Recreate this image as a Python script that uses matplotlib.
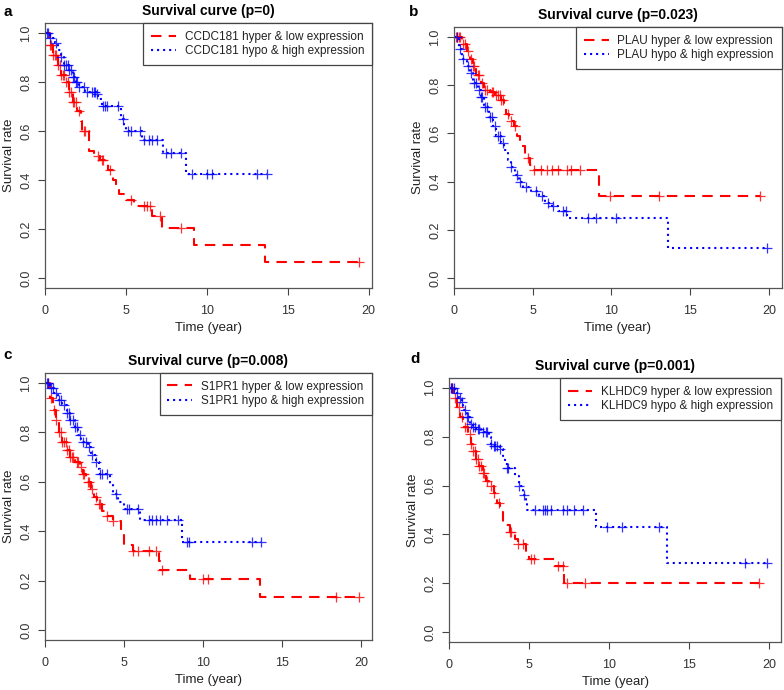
import numpy as np
import matplotlib
matplotlib.use("Agg")
from matplotlib import pyplot as plt
from matplotlib.lines import Line2D

plt.rcParams['font.family'] = ['Liberation Sans', 'DejaVu Sans']

panel_labels = ["a", "b", "c", "d"]
genes = ["CCDC181", "PLAU", "S1PR1", "KLHDC9"]
pvalues = ["0", "0.023", "0.008", "0.001"]

# red = hyper & low expression, blue = hypo & high expression
# event times and survival after each drop, censor times
a_red_t = [0.3, 0.5, 0.8, 1.0, 1.3, 1.5, 1.7, 2.0, 2.2, 2.3, 2.7, 3.0, 3.4, 3.9, 4.2, 4.4, 4.6, 5.0, 5.5, 6.6, 7.2, 9.2, 13.6]
a_red_s = [0.95, 0.91, 0.87, 0.83, 0.80, 0.76, 0.72, 0.68, 0.64, 0.60, 0.52, 0.50, 0.48, 0.44, 0.40, 0.37, 0.345, 0.32, 0.295, 0.255, 0.205, 0.135, 0.068]
a_red_c = [0.3, 0.4, 0.5, 0.6, 0.7, 0.8, 0.9, 1.0, 1.1, 1.2, 1.3, 1.4, 1.5, 1.6, 1.7, 1.8, 1.9, 2.1, 2.4, 2.5, 3.3, 3.5, 3.6, 4.0, 5.3, 6.1, 6.3, 6.5, 7.1, 8.4, 19.4]
a_blue_t = [0.3, 0.6, 0.8, 1.0, 1.2, 1.5, 1.7, 1.9, 2.1, 2.5, 3.2, 3.3, 3.5, 4.7, 4.9, 5.0, 6.0, 7.3, 8.7]
a_blue_s = [0.98, 0.96, 0.93, 0.90, 0.87, 0.85, 0.82, 0.80, 0.78, 0.76, 0.75, 0.73, 0.70, 0.65, 0.62, 0.60, 0.565, 0.51, 0.425]
a_blue_c = [0.1, 0.2, 0.3, 0.7, 1.0, 1.2, 1.3, 1.4, 1.5, 1.6, 1.7, 1.8, 1.9, 2.0, 2.1, 2.4, 2.6, 2.9, 3.0, 3.1, 3.2, 3.6, 3.7, 3.8, 4.5, 4.8, 5.1, 5.3, 5.9, 6.1, 6.4, 6.6, 6.9, 7.5, 7.8, 8.4, 9.1, 10.0, 10.3, 13.1, 13.7]

b_red_t = [0.5, 0.8, 1.0, 1.2, 1.4, 1.7, 1.9, 2.3, 2.6, 3.0, 3.2, 3.3, 3.5, 3.8, 4.0, 4.2, 4.5, 4.8, 5.0, 9.2]
b_red_s = [0.97, 0.94, 0.91, 0.88, 0.84, 0.81, 0.78, 0.77, 0.76, 0.74, 0.72, 0.68, 0.65, 0.63, 0.59, 0.55, 0.50, 0.47, 0.45, 0.34]
b_red_c = [0.1, 0.2, 0.3, 0.4, 0.6, 0.7, 0.9, 1.1, 1.2, 1.3, 1.5, 1.6, 1.8, 2.0, 2.1, 2.4, 2.5, 2.7, 2.8, 2.9, 3.0, 3.1, 3.4, 3.6, 3.9, 4.7, 5.1, 5.5, 5.9, 6.2, 6.6, 7.2, 7.4, 8.0, 9.9, 13.0, 19.4]
b_blue_t = [0.3, 0.5, 0.8, 1.0, 1.2, 1.5, 1.7, 1.9, 2.2, 2.5, 2.7, 3.0, 3.2, 3.4, 3.6, 3.9, 4.1, 4.4, 4.9, 5.4, 5.8, 6.2, 6.6, 7.2, 13.6]
b_blue_s = [0.95, 0.91, 0.88, 0.85, 0.81, 0.78, 0.75, 0.71, 0.67, 0.63, 0.59, 0.56, 0.53, 0.49, 0.46, 0.43, 0.40, 0.38, 0.36, 0.34, 0.31, 0.30, 0.28, 0.25, 0.125]
b_blue_c = [0.2, 0.4, 0.6, 0.9, 1.1, 1.3, 1.4, 1.6, 1.7, 1.8, 2.0, 2.1, 2.3, 2.4, 2.6, 2.8, 2.9, 3.1, 3.6, 4.0, 4.2, 4.6, 5.2, 5.6, 6.0, 6.3, 6.9, 7.1, 8.5, 9.0, 10.3, 19.9]

c_red_t = [0.3, 0.5, 0.7, 0.9, 1.1, 1.4, 1.6, 1.9, 2.2, 2.4, 2.6, 2.9, 3.1, 3.3, 3.6, 3.9, 4.3, 4.8, 5.0, 5.6, 7.2, 7.3, 9.2, 13.6]
c_red_s = [0.94, 0.89, 0.85, 0.80, 0.76, 0.73, 0.70, 0.68, 0.66, 0.63, 0.60, 0.57, 0.54, 0.51, 0.48, 0.46, 0.44, 0.40, 0.345, 0.32, 0.28, 0.245, 0.205, 0.135]
c_red_c = [0.2, 0.4, 0.6, 0.7, 0.9, 1.0, 1.1, 1.2, 1.3, 1.4, 1.5, 1.6, 1.7, 1.8, 2.0, 2.1, 2.3, 2.4, 2.5, 2.7, 2.8, 3.0, 3.2, 3.4, 3.5, 3.9, 4.3, 5.6, 5.9, 6.6, 7.0, 7.4, 10.0, 10.3, 18.4, 19.9]
c_blue_t = [0.3, 0.6, 0.8, 1.1, 1.4, 1.6, 1.9, 2.1, 2.3, 2.7, 2.9, 3.2, 3.4, 3.5, 4.1, 4.3, 4.6, 5.0, 6.0, 8.7]
c_blue_s = [0.98, 0.96, 0.93, 0.91, 0.88, 0.85, 0.82, 0.79, 0.76, 0.74, 0.71, 0.68, 0.65, 0.63, 0.59, 0.55, 0.52, 0.49, 0.445, 0.355]
c_blue_c = [0.1, 0.2, 0.4, 0.5, 0.7, 0.9, 1.0, 1.2, 1.4, 1.5, 1.6, 1.8, 1.9, 2.0, 2.2, 2.4, 2.6, 2.8, 3.0, 3.2, 3.5, 3.6, 3.9, 4.5, 5.2, 5.3, 5.9, 6.6, 6.8, 7.0, 7.3, 7.7, 8.4, 9.0, 9.1, 13.1, 13.7]

d_red_t = [0.3, 0.5, 0.7, 0.9, 1.2, 1.4, 1.5, 1.7, 1.9, 2.1, 2.3, 2.5, 2.8, 3.0, 3.2, 3.4, 3.8, 4.1, 4.3, 4.8, 5.0, 6.6, 7.2]
d_red_s = [0.96, 0.92, 0.88, 0.84, 0.81, 0.77, 0.74, 0.71, 0.68, 0.65, 0.62, 0.60, 0.57, 0.53, 0.49, 0.44, 0.41, 0.38, 0.36, 0.33, 0.30, 0.27, 0.20]
d_red_c = [0.1, 0.2, 0.4, 0.6, 0.8, 1.0, 1.1, 1.3, 1.4, 1.5, 1.6, 1.7, 1.8, 1.9, 2.0, 2.1, 2.2, 2.4, 2.6, 2.8, 3.1, 3.8, 3.9, 4.3, 4.6, 5.1, 5.3, 6.8, 7.1, 7.4, 8.5, 19.4]
d_blue_t = [0.4, 0.6, 0.8, 0.9, 1.1, 1.3, 1.5, 1.7, 2.0, 2.5, 2.6, 2.7, 3.2, 3.4, 3.5, 3.6, 4.1, 4.4, 4.6, 4.8, 4.9, 9.2, 13.6]
d_blue_s = [0.98, 0.96, 0.94, 0.91, 0.88, 0.85, 0.84, 0.83, 0.82, 0.80, 0.77, 0.76, 0.75, 0.72, 0.69, 0.67, 0.64, 0.60, 0.56, 0.53, 0.50, 0.43, 0.285]
d_blue_c = [0.1, 0.2, 0.3, 0.5, 0.7, 0.8, 1.0, 1.1, 1.2, 1.4, 1.5, 1.6, 1.8, 1.9, 2.1, 2.3, 2.4, 2.6, 2.8, 2.9, 3.0, 3.2, 3.6, 3.7, 4.4, 4.7, 5.4, 5.9, 6.0, 6.1, 6.4, 7.1, 7.4, 7.8, 8.4, 9.9, 10.8, 13.1, 18.5, 19.9]

curves = [
    ((a_red_t, a_red_s, a_red_c), (a_blue_t, a_blue_s, a_blue_c)),
    ((b_red_t, b_red_s, b_red_c), (b_blue_t, b_blue_s, b_blue_c)),
    ((c_red_t, c_red_s, c_red_c), (c_blue_t, c_blue_s, c_blue_c)),
    ((d_red_t, d_red_s, d_red_c), (d_blue_t, d_blue_s, d_blue_c)),
]

xmax = [20.2, 20.8, 20.7, 20.75]

# axes rectangles in figure fractions
rects = [
    [0.0574, 0.5826, 0.417, 0.384],
    [0.579, 0.5826, 0.418, 0.378],
    [0.0574, 0.0725, 0.417, 0.387],
    [0.5727, 0.0696, 0.4235, 0.3826],
]
label_pos = [(0.004, 0.993), (0.522, 0.993), (0.004, 0.495), (0.524, 0.49)]

RED = "#FF0000"
BLUE = "#0000FF"
RED_DASH = (5, 3.5)
BLUE_DOT = (1, 1.9)


def km_draw(ax, t, s, c, color, dashes):
    t = np.asarray(t)
    s = np.asarray(s)
    c = np.asarray(c)
    tend = max(t.max(), c.max())
    xs = np.concatenate([[0], t, [tend]])
    ys = np.concatenate([[1.0], s, [s[-1]]])
    ax.step(xs, ys, where="post", color=color, lw=1.5, dashes=dashes)
    lookup = np.concatenate([[1.0], s])
    cy = lookup[np.searchsorted(t, c, side="right")]
    ax.plot(c, cy, linestyle="none", marker="+", color=color, ms=7,
            mew=0.9, alpha=0.8)


fig = plt.figure(figsize=(7.84, 6.90), dpi=100)

for i in range(4):
    ax = fig.add_axes(rects[i])
    red, blue = curves[i]
    km_draw(ax, *red, RED, RED_DASH)
    km_draw(ax, *blue, BLUE, BLUE_DOT)

    ax.set_xlim(0, xmax[i])
    ax.set_ylim(-0.04, 1.04)
    ax.set_xticks([0, 5, 10, 15, 20])
    ax.set_yticks([0.0, 0.2, 0.4, 0.6, 0.8, 1.0])
    ax.set_yticklabels(["0.0", "0.2", "0.4", "0.6", "0.8", "1.0"],
                       rotation=90, va="center")
    ax.tick_params(labelsize=9, length=5, width=0.8, colors="#444444",
                   labelcolor="#333333")
    ax.tick_params(axis="x", pad=7)
    ax.tick_params(axis="y", pad=4)
    for sp in ax.spines.values():
        sp.set_color("#555555")
        sp.set_linewidth(0.9)
    ax.set_xlabel("Time (year)", fontsize=9.5, color="#222222", labelpad=4)
    ax.set_ylabel("Survival rate", fontsize=9.5, color="#222222", labelpad=4)
    ax.set_title("Survival curve (p=%s)" % pvalues[i], fontsize=10,
                 fontweight="bold", pad=6)

    handles = [
        Line2D([], [], color=RED, lw=1.5, dashes=RED_DASH),
        Line2D([], [], color=BLUE, lw=1.5, dashes=BLUE_DOT),
    ]
    names = ["%s hyper & low expression" % genes[i],
             "%s hypo & high expression" % genes[i]]
    leg = ax.legend(handles, names, loc="upper right", fontsize=8.5,
                    fancybox=False, framealpha=1, edgecolor="#444444",
                    borderaxespad=0, handlelength=2.1, handletextpad=0.75,
                    labelspacing=0.2, borderpad=0.65)
    leg.get_frame().set_linewidth(0.9)
    for txt in leg.get_texts():
        txt.set_color("#222222")

    fig.text(label_pos[i][0], label_pos[i][1], panel_labels[i],
             fontsize=11, fontweight="bold", va="top", ha="left")

fig.savefig("out.png", dpi=100)
